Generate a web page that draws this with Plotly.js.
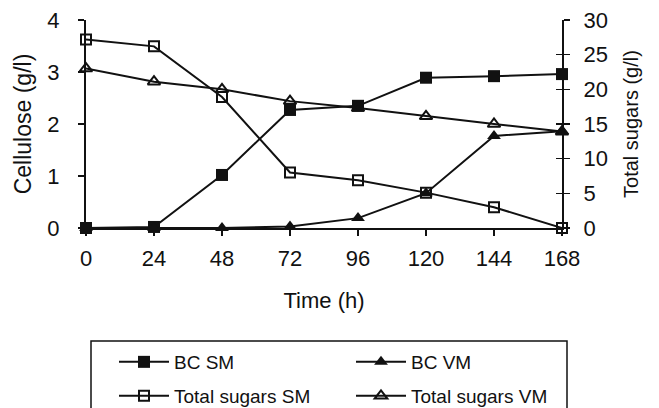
<!DOCTYPE html>
<html>
<head>
<meta charset="utf-8">
<script src="https://cdn.plot.ly/plotly-3.0.1.min.js"></script>
<style>html,body{margin:0;padding:0;background:#fff;}#chart{width:659px;height:408px;}</style>
</head>
<body>
<div id="chart"></div>
<script>
const time = [0, 24, 48, 72, 96, 120, 144, 168];
const bcSM = [0.0, 0.02, 1.02, 2.27, 2.35, 2.89, 2.92, 2.96];
const bcVM = [0.0, 0.0, 0.0, 0.03, 0.19, 0.67, 1.77, 1.86];
const sugarsSM = [27.2, 26.2, 18.9, 8.0, 6.9, 5.1, 3.0, 0.0];
const sugarsVM = [23.0, 21.1, 20.0, 18.3, 17.3, 16.1, 15.0, 13.9];
const names = ["BC SM", "BC VM", "Total sugars SM", "Total sugars VM"];
const xTicks = [0, 24, 48, 72, 96, 120, 144, 168];

const FONT = "Liberation Sans, Arial, sans-serif";
const line = {color: "#111", width: 2};

const traces = [
  {x: time, y: bcSM, name: names[0], mode: "lines+markers", line: line,
   marker: {symbol: "square", size: 12, color: "#111"}, legend: "legend", cliponaxis: false},
  {x: time, y: bcVM, name: names[1], mode: "lines+markers", line: line,
   marker: {symbol: "triangle-up", size: 12, color: "#111"}, legend: "legend", cliponaxis: false},
  {x: time, y: sugarsSM, name: names[2], mode: "lines+markers", line: line, yaxis: "y2",
   marker: {symbol: "square-open", size: 10, color: "#111", line: {width: 2}}, legend: "legend2", cliponaxis: false},
  {x: time, y: sugarsVM, name: names[3], mode: "lines+markers", line: line, yaxis: "y2",
   marker: {symbol: "triangle-up-open", size: 11, color: "#111", line: {width: 2}}, legend: "legend2", cliponaxis: false}
];

const W = 476, H = 208;
const px = v => (v - 86) / W;
const py = v => (228 - v) / H;

const layout = {
  width: 659, height: 408,
  margin: {l: 86, r: 97, t: 20, b: 180, autoexpand: false},
  paper_bgcolor: "#fff", plot_bgcolor: "#fff",
  font: {family: FONT, color: "#111", size: 20},
  showlegend: true,
  xaxis: {
    range: [0, 168], tickvals: xTicks, ticktext: xTicks.map(String),
    showgrid: false, zeroline: false, showline: true, linecolor: "#111", linewidth: 2,
    ticks: "outside", ticklen: 6, tickwidth: 1.5, tickcolor: "#111",
    tickfont: {size: 22}, ticklabelstandoff: 4,
    title: {text: "Time (h)", font: {size: 22}, standoff: 22}
  },
  yaxis: {
    range: [0, 4], dtick: 1, showgrid: false, zeroline: false,
    showline: true, linecolor: "#111", linewidth: 2,
    ticks: "outside", ticklen: 6, tickwidth: 1.5, tickcolor: "#111",
    tickfont: {size: 22}, ticklabelstandoff: 14,
    title: {text: "Cellulose (g/l)", font: {size: 23}, standoff: 9}
  },
  yaxis2: {
    range: [0, 30], dtick: 5, overlaying: "y", side: "right",
    showgrid: false, zeroline: false, showline: true, linecolor: "#111", linewidth: 2,
    ticks: "outside", ticklen: 6, tickwidth: 1.5, tickcolor: "#111",
    tickfont: {size: 22}, ticklabelstandoff: 9,
    title: {text: "Total sugars (g/l)", font: {size: 20}, standoff: 17}
  },
  yaxis3: {
    range: [0, 30], dtick: 5, overlaying: "y", side: "right", anchor: "x",
    showgrid: false, zeroline: false, showline: false,
    ticks: "inside", ticklen: 6, tickwidth: 1.5, tickcolor: "#111", showticklabels: false
  },
  legend: {
    orientation: "h", x: px(114), y: py(343), xanchor: "left", yanchor: "top",
    entrywidth: 172, entrywidthmode: "pixels", itemwidth: 50,
    font: {size: 19}, bgcolor: "rgba(0,0,0,0)", borderwidth: 0
  },
  legend2: {
    orientation: "h", x: px(114), y: py(377), xanchor: "left", yanchor: "top",
    entrywidth: 172, entrywidthmode: "pixels", itemwidth: 50,
    font: {size: 19}, bgcolor: "rgba(0,0,0,0)", borderwidth: 0
  },
  shapes: [
    {type: "rect", xref: "paper", yref: "paper", x0: px(91), x1: px(567), y0: py(341), y1: py(440),
     line: {color: "#111", width: 1.5}, fillcolor: "rgba(0,0,0,0)"}
  ]
};

traces.push({x: [0], y: [0], yaxis: "y3", mode: "markers", marker: {opacity: 0}, showlegend: false, hoverinfo: "skip"});

Plotly.newPlot("chart", traces, layout, {displayModeBar: false, staticPlot: true});
</script>
</body>
</html>
